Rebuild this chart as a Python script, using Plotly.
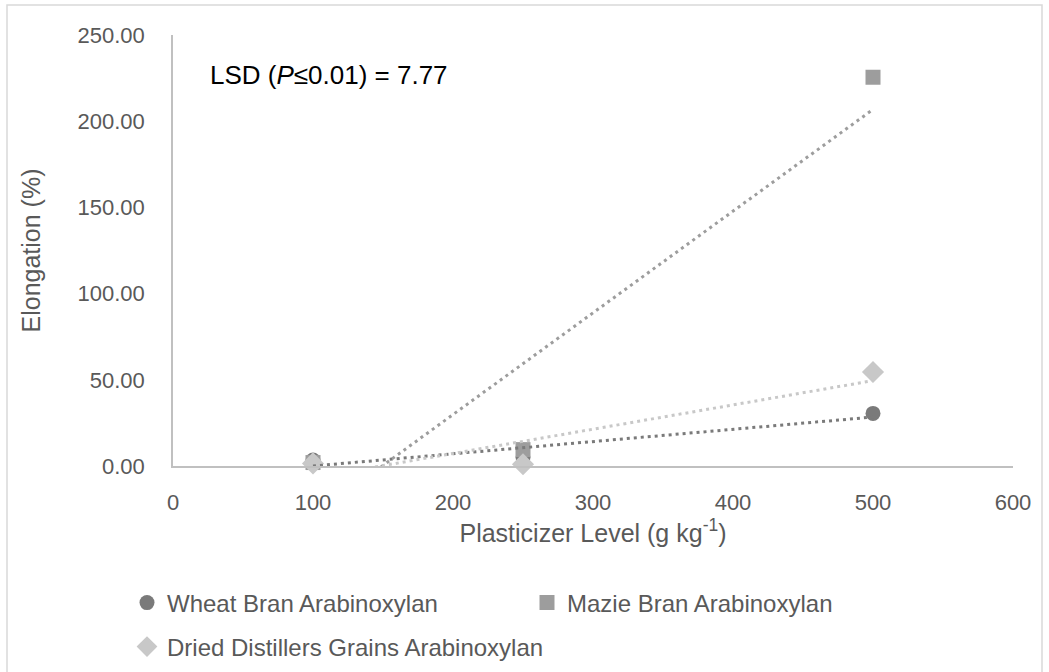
import numpy as np
import plotly.graph_objects as go

# ---- data ----
plasticizer = [100, 250, 500]
wheat = [3.5, 5.0, 30.5]
maize = [2.0, 9.5, 225.5]
ddg = [1.5, 1.0, 54.5]

series_names = ["Wheat Bran Arabinoxylan", "Mazie Bran Arabinoxylan",
                "Dried Distillers Grains Arabinoxylan"]
series_values = [wheat, maize, ddg]
series_colors = ["#7a7a7a", "#9d9d9d", "#c8c8c8"]
series_symbols = ["circle", "square", "diamond"]
series_sizes = [15, 15, 17]
series_legends = ["legend", "legend", "legend2"]

y_ticks = [0, 50, 100, 150, 200, 250]
x_ticks = [0, 100, 200, 300, 400, 500, 600]

FONT = "Liberation Sans, Arial, sans-serif"
TXT = "#595959"
W, H = 1049, 672

fig = go.Figure()

# markers
for name, vals, col, sym, sz, lg in zip(series_names, series_values, series_colors,
                                        series_symbols, series_sizes, series_legends):
    fig.add_trace(go.Scatter(
        x=plasticizer, y=vals, mode="markers", name=name, legend=lg,
        marker=dict(symbol=sym, size=sz, color=col, line=dict(width=0)),
        cliponaxis=False,
    ))

# linear trend lines (least squares fit of each series)
xs = np.array(plasticizer, dtype=float)
for vals, col in zip(series_values, series_colors):
    k, b = np.polyfit(xs, np.array(vals, dtype=float), 1)
    xt = [xs.min(), xs.max()]
    fig.add_trace(go.Scatter(
        x=xt, y=[k * v + b for v in xt], mode="lines", showlegend=False,
        line=dict(color=col, width=3, dash="3px,4px"), hoverinfo="skip",
    ))

# plot area: x 173..1013 px, y 35..466 px
L, R, T, B = 173, W - 1013, 35, H - 466
PW, PH = W - L - R, H - T - B

def px_x(p):
    return (p - L) / PW

def px_y(p):
    return (H - B - p) / PH

def cx(p):
    return p / W

def cy(p):
    return 1 - p / H

fig.update_layout(
    width=W, height=H,
    margin=dict(l=L, r=R, t=T, b=B, pad=0, autoexpand=False),
    paper_bgcolor="white", plot_bgcolor="white",
    font=dict(family=FONT, color=TXT, size=22),
    xaxis=dict(
        range=[0, 600], tickvals=x_ticks, ticktext=[str(v) for v in x_ticks],
        showgrid=False, zeroline=False, showline=True, linecolor="#c0c0c0", linewidth=1.5,
        ticks="", ticklabelstandoff=16, tickfont=dict(size=22, color=TXT),
        title=dict(text="Plasticizer Level (g kg<sup>-1</sup>)", font=dict(size=25, color=TXT),
                   standoff=10),
        fixedrange=True, automargin=False,
    ),
    yaxis=dict(
        range=[0, 250], tickvals=y_ticks, ticktext=[f"{v:.2f}" for v in y_ticks],
        showgrid=False, zeroline=False, showline=True, linecolor="#c0c0c0", linewidth=1.5,
        ticks="", ticklabelstandoff=22, tickfont=dict(size=22, color=TXT),
        title=dict(text="Elongation (%)", font=dict(size=25, color=TXT), standoff=30),
        fixedrange=True, automargin=False,
    ),
    legend=dict(
        orientation="h", xref="container", yref="container",
        x=cx(127), xanchor="left", y=cy(603), yanchor="middle",
        font=dict(size=24, color=TXT), entrywidth=355, entrywidthmode="pixels",
        bgcolor="rgba(0,0,0,0)", itemclick=False, itemdoubleclick=False,
    ),
    legend2=dict(
        orientation="h", xref="container", yref="container",
        x=cx(127), xanchor="left", y=cy(647), yanchor="middle",
        font=dict(size=24, color=TXT),
        bgcolor="rgba(0,0,0,0)", itemclick=False, itemdoubleclick=False,
    ),
    showlegend=True,
)

fig.add_annotation(
    text="LSD (<i>P</i>≤0.01) = 7.77", xref="paper", yref="paper",
    x=px_x(208), y=px_y(75), xanchor="left", yanchor="middle",
    showarrow=False, font=dict(size=26, color="black", family=FONT),
)

# outer chart border (bottom edge lies beyond the picture)
fig.add_shape(type="rect", xref="paper", yref="paper",
              x0=px_x(7), x1=px_x(1042), y0=px_y(700), y1=px_y(5),
              line=dict(color="#d9d9d9", width=1.5), fillcolor="rgba(0,0,0,0)", layer="below")

fig.write_html("out.html", config={"displayModeBar": False})
